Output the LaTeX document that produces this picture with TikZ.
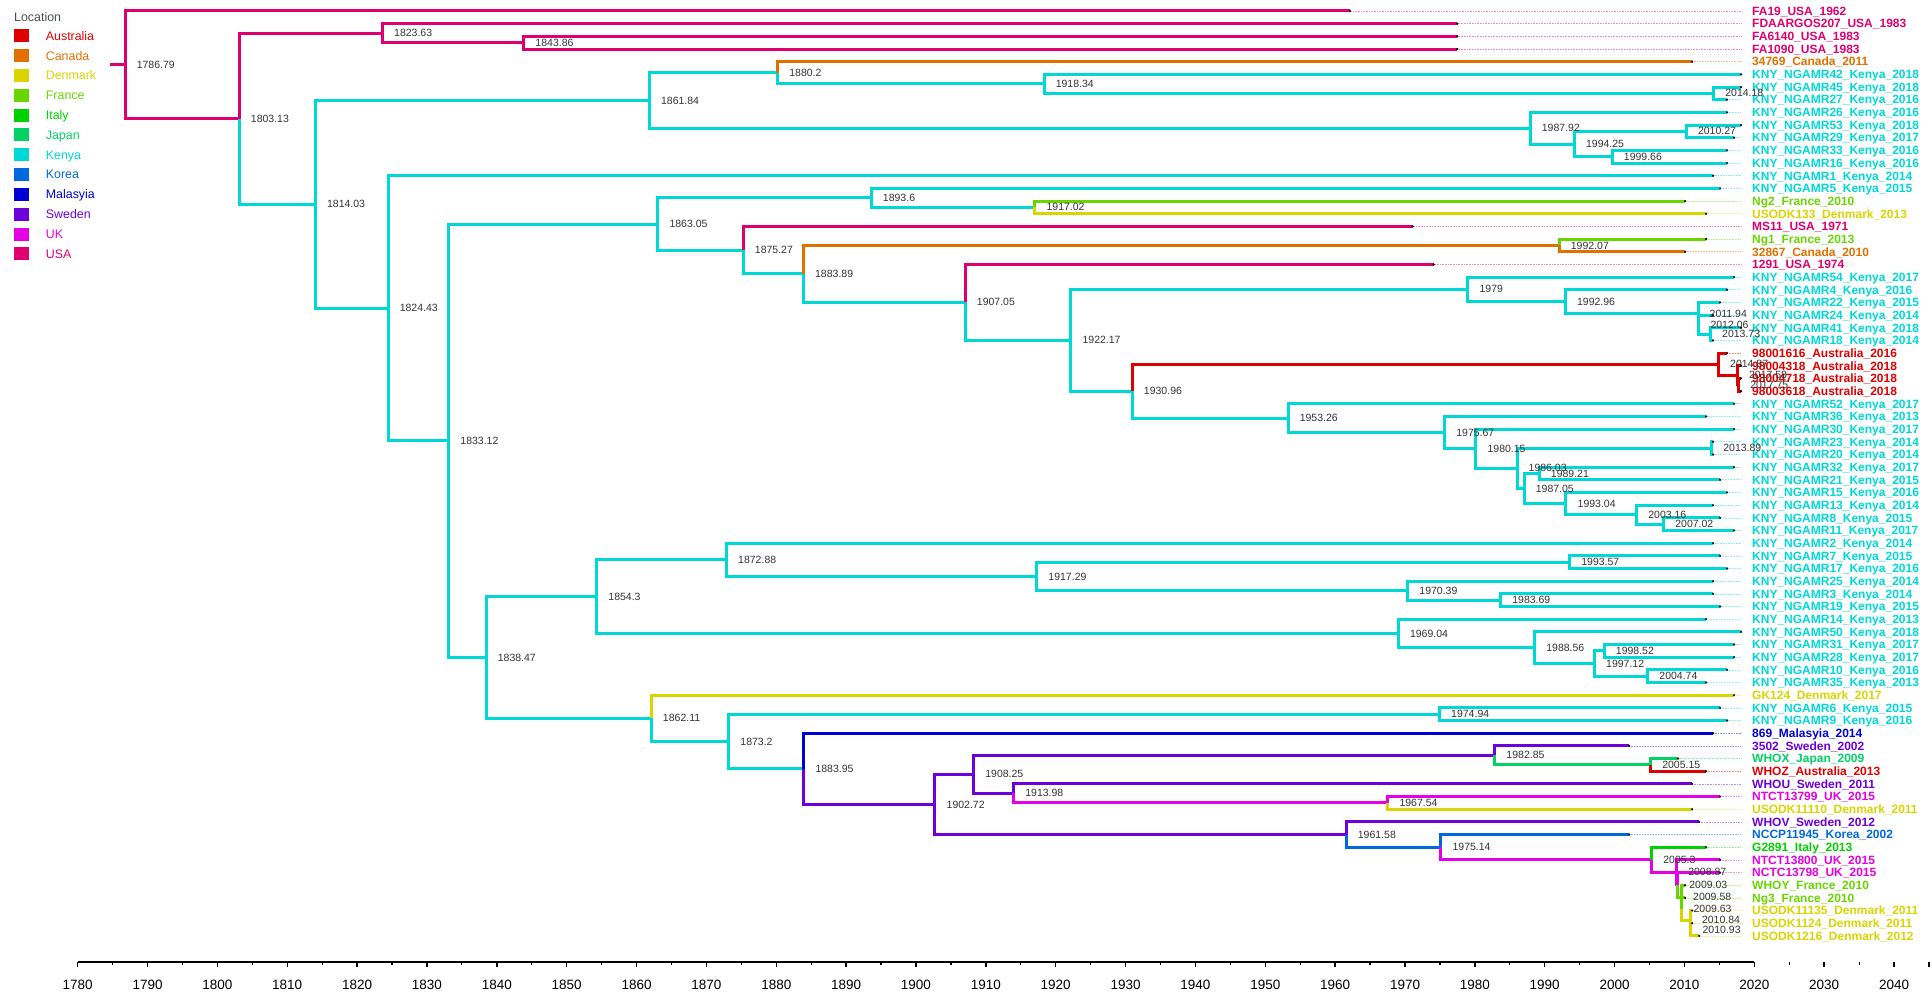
\documentclass[tikz,border=0pt]{standalone}
\usepackage{fontspec}
\setmainfont{Liberation Sans}
\definecolor{cAU}{RGB}{225,0,0}
\definecolor{cCA}{RGB}{226,112,0}
\definecolor{cDK}{RGB}{218,212,0}
\definecolor{cFR}{RGB}{104,214,0}
\definecolor{cIT}{RGB}{0,210,0}
\definecolor{cJP}{RGB}{0,210,100}
\definecolor{cKE}{RGB}{0,216,216}
\definecolor{cKR}{RGB}{0,105,222}
\definecolor{cMY}{RGB}{0,0,210}
\definecolor{cSE}{RGB}{110,0,220}
\definecolor{cUK}{RGB}{230,0,230}
\definecolor{cUS}{RGB}{222,0,112}
\pgfdeclarelayer{background}
\pgfsetlayers{background,main}
\newcommand\YR[1]{1754.3+(#1-2020)*6.986}
\newcommand\RW[1]{-(11+(#1-1)*12.67)}
\tikzset{
  nlab/.style={anchor=west,inner sep=0pt,font=\fontsize{10.5}{12}\selectfont,text=black!80},
  tlab/.style={anchor=base west,inner sep=0pt,font=\fontsize{12}{14}\selectfont\bfseries},
  branch/.style={line width=3pt,line cap=butt,line join=miter},
  dotl/.style={line width=0.6pt,dash pattern=on 0.8pt off 0.8pt},
  axl/.style={font=\fontsize{13.5}{15}\selectfont,inner sep=0pt},
  leg/.style={anchor=base west,inner sep=0pt,font=\fontsize{12.4}{14}\selectfont}
}
\newcommand\nd[3]{\coordinate (#1) at ({\YR{#2}},{\RW{#3}});
  \node[nlab] at ([xshift=11.5pt]#1) {#2};}
\newcommand\tp[5]{\coordinate (#1) at ({\YR{#2+0.1}},{\RW{#3}});
  \begin{pgfonlayer}{background}\draw[dotl,#4!45] (#1) -- ({1741},{\RW{#3}});\end{pgfonlayer}
  \node[tlab,text=#4] at (1752,{\RW{#3}-4.3}) {#5};}
\newcommand\br[3]{\draw[branch,#3] (#1) |- (#2);}
\begin{document}
\begin{tikzpicture}[x=1pt,y=1pt]
\useasboundingbox (0,0) rectangle (1932,-995);
% legend
\node[anchor=west,inner sep=0pt,font=\fontsize{12.4}{14}\selectfont,text=black!70] (legtitle) at (14,-17) {Location};
\foreach \c/\n [count=\i from 0] in {cAU/Australia,cCA/Canada,cDK/Denmark,cFR/France,cIT/Italy,cJP/Japan,cKE/Kenya,cKR/Korea,cMY/Malasyia,cSE/Sweden,cUK/UK,cUS/USA}{
  \fill[\c] (14,{-(36+\i*19.8)+6.5}) rectangle ++(15,-13);
  \node[leg,text=\c] at (45.7,{-(36+\i*19.8)-4.4}) {\n};
}
% tips
\tp{t1}{1962}{1}{cUS}{FA19\_USA\_1962}
\tp{t2}{1977.4}{2}{cUS}{FDAARGOS207\_USA\_1983}
\tp{t3}{1977.4}{3}{cUS}{FA6140\_USA\_1983}
\tp{t4}{1977.4}{4}{cUS}{FA1090\_USA\_1983}
\tp{t5}{2011}{5}{cCA}{34769\_Canada\_2011}
\tp{t6}{2018}{6}{cKE}{KNY\_NGAMR42\_Kenya\_2018}
\tp{t7}{2018}{7}{cKE}{KNY\_NGAMR45\_Kenya\_2018}
\tp{t8}{2016}{8}{cKE}{KNY\_NGAMR27\_Kenya\_2016}
\tp{t9}{2016}{9}{cKE}{KNY\_NGAMR26\_Kenya\_2016}
\tp{t10}{2018}{10}{cKE}{KNY\_NGAMR53\_Kenya\_2018}
\tp{t11}{2017}{11}{cKE}{KNY\_NGAMR29\_Kenya\_2017}
\tp{t12}{2016}{12}{cKE}{KNY\_NGAMR33\_Kenya\_2016}
\tp{t13}{2016}{13}{cKE}{KNY\_NGAMR16\_Kenya\_2016}
\tp{t14}{2014}{14}{cKE}{KNY\_NGAMR1\_Kenya\_2014}
\tp{t15}{2015}{15}{cKE}{KNY\_NGAMR5\_Kenya\_2015}
\tp{t16}{2010}{16}{cFR}{Ng2\_France\_2010}
\tp{t17}{2013}{17}{cDK}{USODK133\_Denmark\_2013}
\tp{t18}{1971}{18}{cUS}{MS11\_USA\_1971}
\tp{t19}{2013}{19}{cFR}{Ng1\_France\_2013}
\tp{t20}{2010}{20}{cCA}{32867\_Canada\_2010}
\tp{t21}{1974}{21}{cUS}{1291\_USA\_1974}
\tp{t22}{2017}{22}{cKE}{KNY\_NGAMR54\_Kenya\_2017}
\tp{t23}{2016}{23}{cKE}{KNY\_NGAMR4\_Kenya\_2016}
\tp{t24}{2015}{24}{cKE}{KNY\_NGAMR22\_Kenya\_2015}
\tp{t25}{2014}{25}{cKE}{KNY\_NGAMR24\_Kenya\_2014}
\tp{t26}{2018}{26}{cKE}{KNY\_NGAMR41\_Kenya\_2018}
\tp{t27}{2014}{27}{cKE}{KNY\_NGAMR18\_Kenya\_2014}
\tp{t28}{2016}{28}{cAU}{98001616\_Australia\_2016}
\tp{t29}{2018}{29}{cAU}{98004318\_Australia\_2018}
\tp{t30}{2018}{30}{cAU}{98004718\_Australia\_2018}
\tp{t31}{2018}{31}{cAU}{98003618\_Australia\_2018}
\tp{t32}{2017}{32}{cKE}{KNY\_NGAMR52\_Kenya\_2017}
\tp{t33}{2013}{33}{cKE}{KNY\_NGAMR36\_Kenya\_2013}
\tp{t34}{2017}{34}{cKE}{KNY\_NGAMR30\_Kenya\_2017}
\tp{t35}{2014}{35}{cKE}{KNY\_NGAMR23\_Kenya\_2014}
\tp{t36}{2014}{36}{cKE}{KNY\_NGAMR20\_Kenya\_2014}
\tp{t37}{2017}{37}{cKE}{KNY\_NGAMR32\_Kenya\_2017}
\tp{t38}{2015}{38}{cKE}{KNY\_NGAMR21\_Kenya\_2015}
\tp{t39}{2016}{39}{cKE}{KNY\_NGAMR15\_Kenya\_2016}
\tp{t40}{2014}{40}{cKE}{KNY\_NGAMR13\_Kenya\_2014}
\tp{t41}{2015}{41}{cKE}{KNY\_NGAMR8\_Kenya\_2015}
\tp{t42}{2017}{42}{cKE}{KNY\_NGAMR11\_Kenya\_2017}
\tp{t43}{2014}{43}{cKE}{KNY\_NGAMR2\_Kenya\_2014}
\tp{t44}{2015}{44}{cKE}{KNY\_NGAMR7\_Kenya\_2015}
\tp{t45}{2016}{45}{cKE}{KNY\_NGAMR17\_Kenya\_2016}
\tp{t46}{2014}{46}{cKE}{KNY\_NGAMR25\_Kenya\_2014}
\tp{t47}{2014}{47}{cKE}{KNY\_NGAMR3\_Kenya\_2014}
\tp{t48}{2015}{48}{cKE}{KNY\_NGAMR19\_Kenya\_2015}
\tp{t49}{2013}{49}{cKE}{KNY\_NGAMR14\_Kenya\_2013}
\tp{t50}{2018}{50}{cKE}{KNY\_NGAMR50\_Kenya\_2018}
\tp{t51}{2017}{51}{cKE}{KNY\_NGAMR31\_Kenya\_2017}
\tp{t52}{2017}{52}{cKE}{KNY\_NGAMR28\_Kenya\_2017}
\tp{t53}{2016}{53}{cKE}{KNY\_NGAMR10\_Kenya\_2016}
\tp{t54}{2013}{54}{cKE}{KNY\_NGAMR35\_Kenya\_2013}
\tp{t55}{2017}{55}{cDK}{GK124\_Denmark\_2017}
\tp{t56}{2015}{56}{cKE}{KNY\_NGAMR6\_Kenya\_2015}
\tp{t57}{2016}{57}{cKE}{KNY\_NGAMR9\_Kenya\_2016}
\tp{t58}{2014}{58}{cMY}{869\_Malasyia\_2014}
\tp{t59}{2002}{59}{cSE}{3502\_Sweden\_2002}
\tp{t60}{2009}{60}{cJP}{WHOX\_Japan\_2009}
\tp{t61}{2013}{61}{cAU}{WHOZ\_Australia\_2013}
\tp{t62}{2011}{62}{cSE}{WHOU\_Sweden\_2011}
\tp{t63}{2015}{63}{cUK}{NTCT13799\_UK\_2015}
\tp{t64}{2011}{64}{cDK}{USODK11110\_Denmark\_2011}
\tp{t65}{2012}{65}{cSE}{WHOV\_Sweden\_2012}
\tp{t66}{2002}{66}{cKR}{NCCP11945\_Korea\_2002}
\tp{t67}{2013}{67}{cIT}{G2891\_Italy\_2013}
\tp{t68}{2015}{68}{cUK}{NTCT13800\_UK\_2015}
\tp{t69}{2015}{69}{cUK}{NCTC13798\_UK\_2015}
\tp{t70}{2010}{70}{cFR}{WHOY\_France\_2010}
\tp{t71}{2010}{71}{cFR}{Ng3\_France\_2010}
\tp{t72}{2011}{72}{cDK}{USODK11135\_Denmark\_2011}
\tp{t73}{2011}{73}{cDK}{USODK1124\_Denmark\_2011}
\tp{t74}{2012}{74}{cDK}{USODK1216\_Denmark\_2012}
% internal nodes
\nd{a1786}{1786.79}{5.2527}
\nd{a1803}{1803.13}{9.5053}
\nd{a1823}{1823.63}{2.75}
\nd{a1843}{1843.86}{3.5}
\nd{a1814}{1814.03}{16.2607}
\nd{a1861}{1861.84}{8.0625}
\nd{a1880}{1880.2}{5.875}
\nd{a1918}{1918.34}{6.75}
\nd{a2014a}{2014.18}{7.5}
\nd{a1987}{1987.92}{10.25}
\nd{a1994}{1994.25}{11.5}
\nd{a2010a}{2010.27}{10.5}
\nd{a1999}{1999.66}{12.5}
\nd{a1824}{1824.43}{24.4588}
\nd{a1833}{1833.12}{34.9176}
\nd{a1863}{1863.05}{17.8117}
\nd{a1893}{1893.6}{15.75}
\nd{a1917a}{1917.02}{16.5}
\nd{a1875}{1875.27}{19.8734}
\nd{a1883a}{1883.89}{21.7468}
\nd{a1992a}{1992.07}{19.5}
\nd{a1907}{1907.05}{23.9937}
\nd{a1922}{1922.17}{26.9873}
\nd{a1979}{1979}{22.9688}
\nd{a1992b}{1992.96}{23.9375}
\nd{a2011}{2011.94}{24.875}
\nd{a2012}{2012.06}{25.75}
\nd{a2013a}{2013.73}{26.5}
\nd{a1930}{1930.96}{31.0059}
\nd{a2014b}{2014.87}{28.875}
\nd{a2017a}{2017.58}{29.75}
\nd{a2017b}{2017.75}{30.5}
\nd{a1953}{1953.26}{33.1367}
\nd{a1975a}{1975.67}{34.2734}
\nd{a1980}{1980.15}{35.5469}
\nd{a1986}{1986.03}{37.0938}
\nd{a2013b}{2013.89}{35.5}
\nd{a1987b}{1987.05}{38.6875}
\nd{a1989}{1989.21}{37.5}
\nd{a1993a}{1993.04}{39.875}
\nd{a2003}{2003.16}{40.75}
\nd{a2007}{2007.02}{41.5}
\nd{a1838}{1838.47}{52.0234}
\nd{a1854}{1854.3}{47.2188}
\nd{a1872}{1872.88}{44.3125}
\nd{a1917b}{1917.29}{45.625}
\nd{a1993b}{1993.57}{44.5}
\nd{a1970}{1970.39}{46.75}
\nd{a1983}{1983.69}{47.5}
\nd{a1969}{1969.04}{50.125}
\nd{a1988}{1988.56}{51.25}
\nd{a1997}{1997.12}{52.5}
\nd{a1998}{1998.52}{51.5}
\nd{a2004}{2004.74}{53.5}
\nd{a1862}{1862.11}{56.828}
\nd{a1873}{1873.2}{58.656}
\nd{a1974}{1974.94}{56.5}
\nd{a1883b}{1883.95}{60.812}
\nd{a1902}{1902.72}{63.624}
\nd{a1908}{1908.25}{61.25}
\nd{a1982}{1982.85}{59.75}
\nd{a2005a}{2005.15}{60.5}
\nd{a1913}{1913.98}{62.75}
\nd{a1967}{1967.54}{63.5}
\nd{a1961}{1961.58}{65.998}
\nd{a1975b}{1975.14}{66.9961}
\nd{a2005b}{2005.3}{67.9922}
\nd{a2008}{2008.87}{68.9844}
\nd{a2009a}{2009.03}{69.9688}
\nd{a2009b}{2009.58}{70.9375}
\nd{a2009c}{2009.63}{71.875}
\nd{a2010b}{2010.84}{72.75}
\nd{a2010c}{2010.93}{73.5}
\coordinate (rootin) at (110,{\RW{5.2527}});
% branches
\begin{pgfonlayer}{background}
\draw[branch,cUS] (rootin) -- (a1786);
\br{a1786}{t1}{cUS} \br{a1786}{a1803}{cUS}
\br{a1803}{a1823}{cUS} \br{a1803}{a1814}{cKE}
\br{a1823}{t2}{cUS} \br{a1823}{a1843}{cUS}
\br{a1843}{t3}{cUS} \br{a1843}{t4}{cUS}
\br{a1814}{a1861}{cKE} \br{a1814}{a1824}{cKE}
\br{a1861}{a1880}{cKE} \br{a1861}{a1987}{cKE}
\br{a1880}{t5}{cCA} \br{a1880}{a1918}{cKE}
\br{a1918}{t6}{cKE} \br{a1918}{a2014a}{cKE}
\br{a2014a}{t7}{cKE} \br{a2014a}{t8}{cKE}
\br{a1987}{t9}{cKE} \br{a1987}{a1994}{cKE}
\br{a1994}{a2010a}{cKE} \br{a1994}{a1999}{cKE}
\br{a2010a}{t10}{cKE} \br{a2010a}{t11}{cKE}
\br{a1999}{t12}{cKE} \br{a1999}{t13}{cKE}
\br{a1824}{t14}{cKE} \br{a1824}{a1833}{cKE}
\br{a1833}{a1863}{cKE} \br{a1833}{a1838}{cKE}
\br{a1863}{a1893}{cKE} \br{a1863}{a1875}{cKE}
\br{a1893}{t15}{cKE} \br{a1893}{a1917a}{cKE}
\br{a1917a}{t16}{cFR} \br{a1917a}{t17}{cDK}
\br{a1875}{t18}{cUS} \br{a1875}{a1883a}{cKE}
\br{a1883a}{a1992a}{cCA} \br{a1883a}{a1907}{cKE}
\br{a1992a}{t19}{cFR} \br{a1992a}{t20}{cCA}
\br{a1907}{t21}{cUS} \br{a1907}{a1922}{cKE}
\br{a1922}{a1979}{cKE} \br{a1922}{a1930}{cKE}
\br{a1979}{t22}{cKE} \br{a1979}{a1992b}{cKE}
\br{a1992b}{t23}{cKE} \br{a1992b}{a2011}{cKE}
\br{a2011}{t24}{cKE} \br{a2011}{a2012}{cKE}
\br{a2012}{t25}{cKE} \br{a2012}{a2013a}{cKE}
\br{a2013a}{t26}{cKE} \br{a2013a}{t27}{cKE}
\br{a1930}{a2014b}{cAU} \br{a1930}{a1953}{cKE}
\br{a2014b}{t28}{cAU} \br{a2014b}{a2017a}{cAU}
\br{a2017a}{t29}{cAU} \br{a2017a}{a2017b}{cAU}
\br{a2017b}{t30}{cAU} \br{a2017b}{t31}{cAU}
\br{a1953}{t32}{cKE} \br{a1953}{a1975a}{cKE}
\br{a1975a}{t33}{cKE} \br{a1975a}{a1980}{cKE}
\br{a1980}{t34}{cKE} \br{a1980}{a1986}{cKE}
\br{a1986}{a2013b}{cKE} \br{a1986}{a1987b}{cKE}
\br{a2013b}{t35}{cKE} \br{a2013b}{t36}{cKE}
\br{a1987b}{a1989}{cKE} \br{a1987b}{a1993a}{cKE}
\br{a1989}{t37}{cKE} \br{a1989}{t38}{cKE}
\br{a1993a}{t39}{cKE} \br{a1993a}{a2003}{cKE}
\br{a2003}{t40}{cKE} \br{a2003}{a2007}{cKE}
\br{a2007}{t41}{cKE} \br{a2007}{t42}{cKE}
\br{a1838}{a1854}{cKE} \br{a1838}{a1862}{cKE}
\br{a1854}{a1872}{cKE} \br{a1854}{a1969}{cKE}
\br{a1872}{t43}{cKE} \br{a1872}{a1917b}{cKE}
\br{a1917b}{a1993b}{cKE} \br{a1917b}{a1970}{cKE}
\br{a1993b}{t44}{cKE} \br{a1993b}{t45}{cKE}
\br{a1970}{t46}{cKE} \br{a1970}{a1983}{cKE}
\br{a1983}{t47}{cKE} \br{a1983}{t48}{cKE}
\br{a1969}{t49}{cKE} \br{a1969}{a1988}{cKE}
\br{a1988}{t50}{cKE} \br{a1988}{a1997}{cKE}
\br{a1997}{a1998}{cKE} \br{a1997}{a2004}{cKE}
\br{a1998}{t51}{cKE} \br{a1998}{t52}{cKE}
\br{a2004}{t53}{cKE} \br{a2004}{t54}{cKE}
\br{a1862}{t55}{cDK} \br{a1862}{a1873}{cKE}
\br{a1873}{a1974}{cKE} \br{a1873}{a1883b}{cKE}
\br{a1974}{t56}{cKE} \br{a1974}{t57}{cKE}
\br{a1883b}{t58}{cMY} \br{a1883b}{a1902}{cSE}
\br{a1902}{a1908}{cSE} \br{a1902}{a1961}{cSE}
\br{a1908}{a1982}{cSE} \br{a1908}{a1913}{cSE}
\br{a1982}{t59}{cSE} \br{a1982}{a2005a}{cJP}
\br{a2005a}{t60}{cJP} \br{a2005a}{t61}{cAU}
\br{a1913}{t62}{cSE} \br{a1913}{a1967}{cUK}
\br{a1967}{t63}{cUK} \br{a1967}{t64}{cDK}
\br{a1961}{t65}{cSE} \br{a1961}{a1975b}{cKR}
\br{a1975b}{t66}{cKR} \br{a1975b}{a2005b}{cUK}
\br{a2005b}{t67}{cIT} \br{a2005b}{a2008}{cUK}
\br{a2008}{t68}{cUK} \br{a2008}{a2009a}{cUK}
\br{a2009a}{t69}{cUK} \br{a2009a}{a2009b}{cFR}
\br{a2009b}{t70}{cFR} \br{a2009b}{a2009c}{cFR}
\br{a2009c}{t71}{cFR} \br{a2009c}{a2010b}{cDK}
\br{a2010b}{t72}{cDK} \br{a2010b}{a2010c}{cDK}
\br{a2010c}{t73}{cDK} \br{a2010c}{t74}{cDK}
\end{pgfonlayer}
% tip dots
\foreach \i in {1,...,74}{\fill[black] (t\i) circle (1.2);}
% axis
\draw[line width=1.8pt] ({\YR{1780}},-962) -- ({\YR{2020}},-962);
\foreach \y in {1780,1790,...,2040}{
  \draw[line width=1.4pt] ({\YR{\y}},-962) -- ++(0,-4.5);
  \node[axl] at ({\YR{\y}},-985) {\y};
}
\foreach \y in {1785,1795,...,2035}{\draw[line width=1.2pt] ({\YR{\y}},-962) -- ++(0,-2.5);}
\draw[line width=1.4pt] ({\YR{2045}},-962) -- ++(0,-4.5);
\end{tikzpicture}
\end{document}
